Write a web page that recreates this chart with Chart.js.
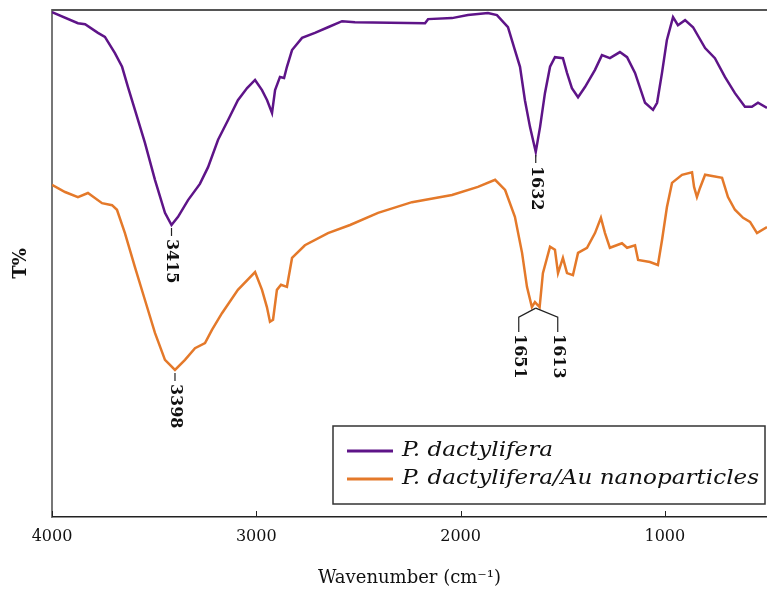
<!DOCTYPE html>
<html lang="en">
<head>
    <meta charset="UTF-8">
    <title>FTIR spectra</title>
    <script src="https://cdn.jsdelivr.net/npm/chart.js"></script>
    <style>
        body { margin: 0; background: #fff; }
        #wrap { width: 767px; height: 594px; position: relative; }
    </style>
</head>
<body>
    <div id="wrap"><canvas id="myChart"></canvas></div>

    <script>
        // spectrum of P. dactylifera (wavenumber, T%)
        const wnPlant = [4000, 3873, 3838, 3775, 3741, 3692, 3657, 3628, 3594, 3545, 3496, 3447, 3415, 3383, 3334, 3276,
            3236, 3187, 3138, 3090, 3045, 3006, 2972, 2947, 2923, 2908, 2884, 2864, 2850, 2825, 2776, 2713, 2649, 2580,
            2517, 2174, 2159, 2042, 1964, 1866, 1822, 1768, 1734, 1709, 1685, 1660, 1632, 1611, 1587, 1562, 1538, 1499,
            1479, 1455, 1425, 1391, 1342, 1308, 1269, 1220, 1185, 1146, 1097, 1058, 1038, 1014, 990, 960, 936, 901, 862,
            803, 755, 706, 657, 608, 574, 544, 500];
        const tPlant = [99.6, 97.4, 97.2, 95.5, 94.7, 91.5, 88.8, 84.8, 80.3, 73.8, 66.5, 60.0, 57.6, 59.2, 62.5, 65.7,
            69.0, 74.4, 78.3, 82.2, 84.6, 86.2, 84.2, 82.2, 79.7, 84.2, 86.8, 86.6, 88.8, 92.1, 94.5, 95.5, 96.6, 97.8,
            97.6, 97.4, 98.2, 98.4, 99.0, 99.4, 99.0, 96.6, 92.1, 88.8, 82.2, 76.9, 72.0, 76.9, 83.6, 88.8, 90.7, 90.5,
            87.6, 84.6, 82.8, 84.8, 88.2, 91.1, 90.5, 91.7, 90.7, 87.6, 81.7, 80.3, 81.7, 87.6, 94.1, 98.6, 97.0, 98.0, 96.6,
            92.5, 90.5, 86.8, 83.6, 80.9, 80.9, 81.7, 80.7];

        // spectrum of P. dactylifera/Au nanoparticles
        const wnGold = [4000, 3936, 3873, 3824, 3755, 3706, 3682, 3643, 3594, 3545, 3496, 3447, 3398, 3349, 3300, 3251,
            3217, 3168, 3090, 3006, 2972, 2948, 2933, 2918, 2899, 2879, 2850, 2825, 2762, 2649, 2541, 2404, 2238, 2042,
            1915, 1831, 1782, 1734, 1699, 1675, 1651, 1636, 1613, 1597, 1562, 1538, 1523, 1499, 1479, 1450, 1425, 1381,
            1342, 1313, 1293, 1269, 1210, 1185, 1146, 1131, 1073, 1034, 1014, 990, 965, 916, 867, 857, 843, 828, 803, 720,
            691, 657, 617, 583, 549, 500];
        const tGold = [65.5, 64.1, 63.1, 63.9, 61.9, 61.5, 60.6, 56.0, 49.3, 42.8, 36.3, 31.0, 29.0, 31.0, 33.3, 34.3,
            36.9, 40.2, 44.8, 48.3, 44.8, 41.4, 38.5, 38.9, 44.8, 45.8, 45.4, 51.1, 53.6, 56.0, 57.6, 60.0, 62.1, 63.5,
            65.1, 66.5, 64.5, 59.2, 52.1, 45.4, 41.4, 42.4, 41.4, 48.1, 53.3, 52.7, 48.1, 51.1, 48.1, 47.7, 52.1, 53.1,
            56.0, 59.0, 56.0, 53.1, 54.0, 53.1, 53.6, 50.7, 50.3, 49.7, 54.6, 61.1, 65.9, 67.5, 68.0, 65.1, 63.1, 64.9, 67.5, 66.9,
            63.1, 60.6, 59.0, 58.2, 56.0, 57.2];

        const seriesNames = ['P. dactylifera', 'P. dactylifera/Au nanoparticles'];
        const xTickValues = [4000, 3000, 2000, 1000];

        // peak labels: single ones hang under the minimum, the pair shares a bracket
        const peakLabels = ['3415', '1632', '3398'];
        const peakWn = [3415, 1632, 3398];
        const peakT = [57.6, 72.0, 29.0];
        const pairLabels = ['1651', '1613'];
        const pairWn = [1651, 1613];
        const pairT = 41.4;

        const purple = '#5e1488';
        const orange = '#e4792a';
        const serif = '"DejaVu Serif", "Liberation Serif", serif';

        function pts(xs, ys) {
            return xs.map((v, i) => ({ x: v, y: ys[i] }));
        }

        const annotate = {
            id: 'annotate',
            afterDraw(chart) {
                const { ctx, chartArea: a, scales: { x, y } } = chart;
                ctx.save();

                // top frame line
                ctx.strokeStyle = '#555';
                ctx.lineWidth = 2;
                ctx.beginPath();
                ctx.moveTo(a.left, a.top);
                ctx.lineTo(a.right, a.top);
                ctx.stroke();

                // inward tick marks on the x axis
                ctx.strokeStyle = '#222';
                ctx.lineWidth = 1;
                xTickValues.forEach(v => {
                    const px = Math.round(x.getPixelForValue(v)) + 0.5;
                    ctx.beginPath();
                    ctx.moveTo(px, a.bottom);
                    ctx.lineTo(px, a.bottom - 6);
                    ctx.stroke();
                });

                // peak labels
                ctx.fillStyle = '#111';
                ctx.strokeStyle = '#222';
                ctx.lineWidth = 1.2;
                ctx.font = 'bold 16px ' + serif;
                ctx.textAlign = 'left';
                ctx.textBaseline = 'middle';
                const vText = (txt, px, py) => {
                    ctx.save();
                    ctx.translate(px, py);
                    ctx.rotate(Math.PI / 2);
                    ctx.fillText(txt, 0, 0);
                    ctx.restore();
                };
                peakLabels.forEach((lab, i) => {
                    const px = x.getPixelForValue(peakWn[i]);
                    const py = y.getPixelForValue(peakT[i]);
                    ctx.beginPath();
                    ctx.moveTo(px, py + 3);
                    ctx.lineTo(px, py + 11);
                    ctx.stroke();
                    vText(lab, px, py + 14);
                });
                const vx = x.getPixelForValue((pairWn[0] + pairWn[1]) / 2);
                const vy = y.getPixelForValue(pairT) + 1;
                const offs = [-17, 22];
                pairLabels.forEach((lab, i) => {
                    const lx = vx + offs[i];
                    ctx.beginPath();
                    ctx.moveTo(vx, vy);
                    ctx.lineTo(lx, vy + 9);
                    ctx.lineTo(lx, vy + 24);
                    ctx.stroke();
                    vText(lab, lx, vy + 26);
                });

                // boxed legend
                const bw = 432, bh = 78;
                const bx = a.right - 2 - bw, by = a.bottom - 13 - bh;
                ctx.fillStyle = '#fff';
                ctx.fillRect(bx, by, bw, bh);
                ctx.strokeStyle = '#333';
                ctx.lineWidth = 1.5;
                ctx.strokeRect(bx, by, bw, bh);
                ctx.font = 'italic 20px ' + serif;
                // stretch the text so the long label fills the box like the original
                const widest = Math.max(...chart.data.datasets.map(d => ctx.measureText(d.label).width));
                const sx = (bw - 69 - 6) / widest;
                chart.data.datasets.forEach((ds, i) => {
                    const ly = by + 25 + i * 28;
                    ctx.strokeStyle = ds.borderColor;
                    ctx.lineWidth = 3;
                    ctx.beginPath();
                    ctx.moveTo(bx + 14, ly);
                    ctx.lineTo(bx + 60, ly);
                    ctx.stroke();
                    ctx.save();
                    ctx.translate(bx + 69, ly);
                    ctx.scale(sx, 1);
                    ctx.fillStyle = '#111';
                    ctx.fillText(ds.label, 0, 0);
                    ctx.restore();
                });
                ctx.restore();
            }
        };

        const ctx = document.getElementById('myChart').getContext('2d');
        const myChart = new Chart(ctx, {
            type: 'line',
            data: {
                datasets: [
                    { label: seriesNames[0], data: pts(wnPlant, tPlant), borderColor: purple, borderWidth: 2.5 },
                    { label: seriesNames[1], data: pts(wnGold, tGold), borderColor: orange, borderWidth: 2.5 }
                ]
            },
            options: {
                responsive: true,
                maintainAspectRatio: false,
                animation: false,
                layout: { padding: { top: 10, right: 0, left: 0, bottom: 0 } },
                elements: { point: { radius: 0 }, line: { tension: 0 } },
                plugins: { legend: { display: false }, tooltip: { enabled: false } },
                scales: {
                    x: {
                        type: 'linear',
                        reverse: true,
                        min: 500,
                        max: 4000,
                        afterBuildTicks: s => { s.ticks = xTickValues.map(v => ({ value: v })); },
                        afterFit: s => { s.height = 77; },
                        grid: { display: false, drawTicks: false },
                        border: { display: true, color: '#222', width: 1.5 },
                        ticks: {
                            padding: 10,
                            color: '#111',
                            maxRotation: 0,
                            font: { family: serif, size: 16 },
                            callback: v => String(v)
                        },
                        title: {
                            display: true,
                            text: 'Wavenumber (cm⁻¹)',
                            color: '#111',
                            font: { family: serif, size: 18 },
                            padding: { top: 0, bottom: 5 }
                        }
                    },
                    y: {
                        min: 0,
                        max: 100,
                        afterFit: s => { s.width = 52; },
                        grid: { display: false, drawTicks: false },
                        border: { display: true, color: '#777', width: 2 },
                        ticks: { display: false },
                        title: {
                            display: true,
                            text: 'T%',
                            color: '#111',
                            font: { family: serif, size: 18, weight: 'bold' },
                            padding: { top: 11, bottom: 0 }
                        }
                    }
                }
            },
            plugins: [annotate]
        });
    </script>
</body>
</html>
